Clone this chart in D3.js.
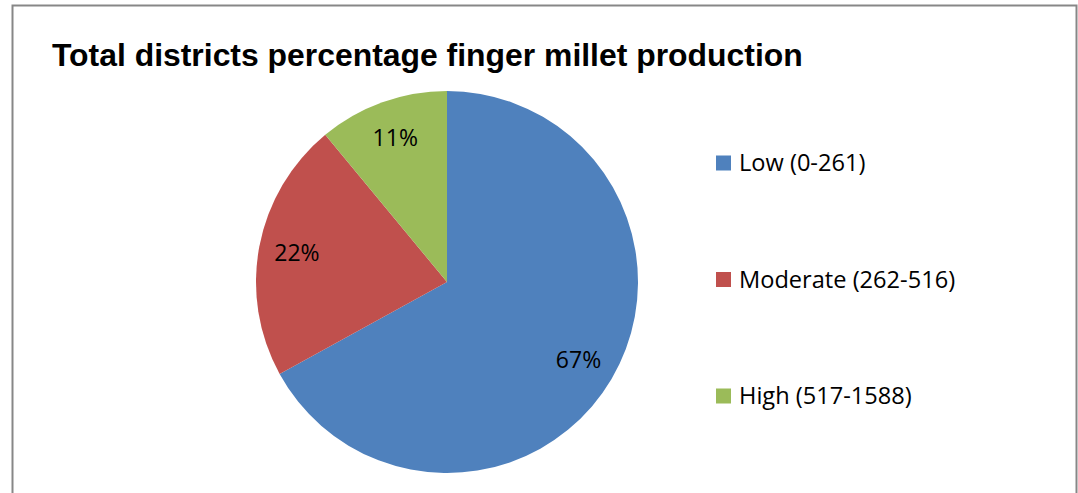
<!DOCTYPE html>
<html>
<head>
<meta charset="utf-8">
<script src="https://cdn.jsdelivr.net/npm/d3@7"></script>
<style>
  html, body { margin: 0; padding: 0; background: #fff; }
  svg { display: block; }
</style>
</head>
<body>
<svg id="chart" width="1078" height="493"></svg>
<script>
// Share of districts in each finger millet production class
const categories = ["Low (0-261)", "Moderate (262-516)", "High (517-1588)"];
const shares = [67, 22, 11];
const colors = ["#4F81BD", "#C0504D", "#9BBB59"];
const title = "Total districts percentage finger millet production";

const svg = d3.select("#chart");

// chart frame
svg.append("rect")
  .attr("x", 12.5).attr("y", 5.5)
  .attr("width", 1064).attr("height", 500)
  .attr("fill", "#fff")
  .attr("stroke", "#878787").attr("stroke-width", 2);

svg.append("text")
  .attr("x", 52).attr("y", 66)
  .attr("font-family", "Liberation Sans, Arial, sans-serif")
  .attr("font-weight", "bold")
  .attr("font-size", 31.9)
  .attr("fill", "#000")
  .text(title);

const cx = 447, cy = 282, r = 191;

const pie = d3.pie().sort(null).value(d => d)(shares);
const arc = d3.arc().innerRadius(0).outerRadius(r);
const labelArc = d3.arc().innerRadius(r * 0.8).outerRadius(r * 0.8);

const g = svg.append("g").attr("transform", `translate(${cx},${cy})`);

g.selectAll("path.slice")
  .data(pie)
  .join("path")
  .attr("class", "slice")
  .attr("d", arc)
  .attr("fill", (d, i) => colors[i]);

g.selectAll("text.pct")
  .data(pie)
  .join("text")
  .attr("class", "pct")
  .attr("transform", d => `translate(${labelArc.centroid(d)})`)
  .attr("text-anchor", "middle")
  .attr("dy", "0.35em")
  .attr("font-family", "Open Sans, Lato, sans-serif")
  .attr("font-size", 23)
  .attr("fill", "#000")
  .text(d => d.data + "%");

// legend
const legendY = d3.scalePoint().domain(categories).range([163, 396]);
const items = svg.append("g").selectAll("g")
  .data(categories)
  .join("g")
  .attr("transform", d => `translate(716,${legendY(d)})`);

items.append("rect")
  .attr("x", 0).attr("y", -7.5)
  .attr("width", 15).attr("height", 15)
  .attr("fill", (d, i) => colors[i]);

items.append("text")
  .attr("x", 23).attr("dy", "0.35em")
  .attr("font-family", "Open Sans, Lato, sans-serif")
  .attr("font-size", 23.6)
  .attr("fill", "#000")
  .text(d => d);
</script>
</body>
</html>
